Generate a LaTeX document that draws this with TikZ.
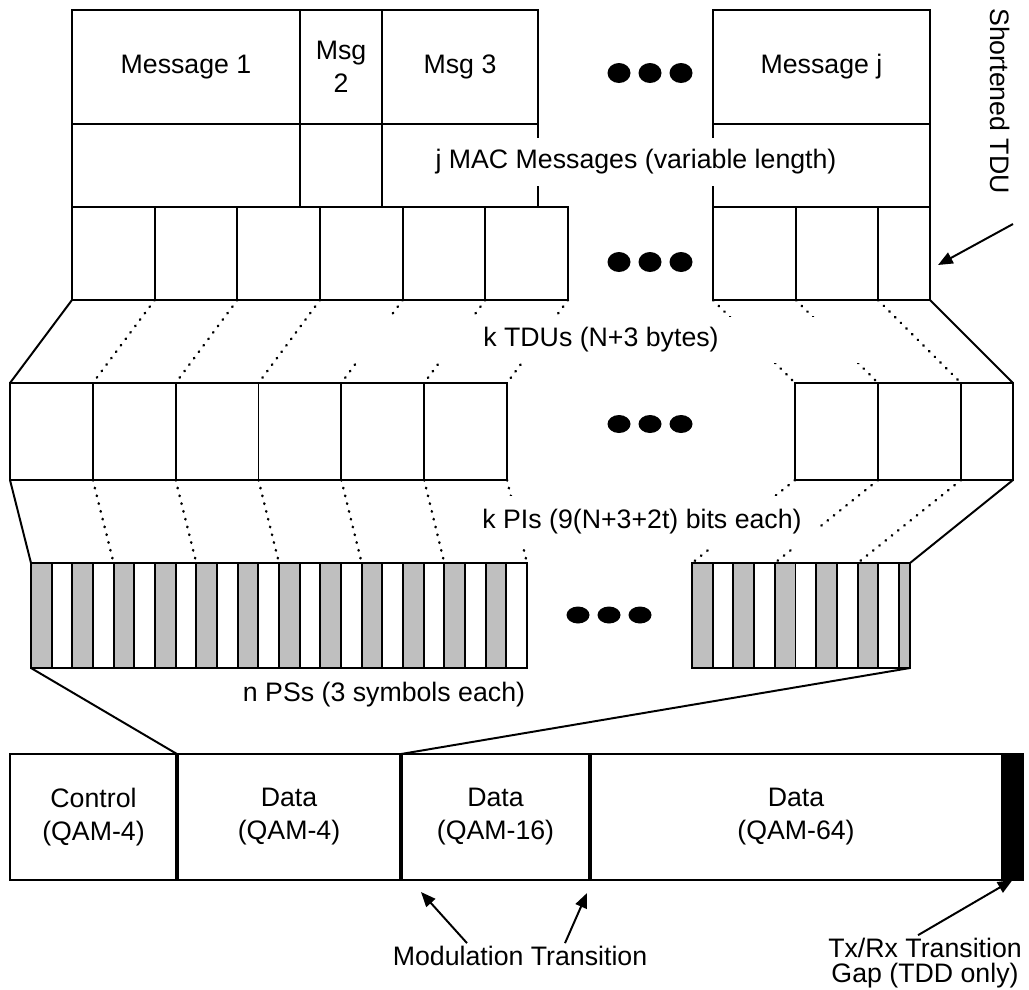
\documentclass[tikz,border=0pt]{standalone}
\usepackage{fontspec}
\setmainfont{Liberation Sans}
\usepackage{tikz}
\usetikzlibrary{arrows.meta}
\newcommand{\diagfont}{\fontsize{19}{23.5}\selectfont}

\begin{document}
\begin{tikzpicture}[
    x=0.025cm, y=-0.025cm,
    cell/.style = {
        rectangle,
        draw=black,
        line width=1.4pt,
        inner sep=0pt,
        outer sep=0pt,
        anchor=north west,
        align=center,
        font=\diagfont
    },
    wide/.style    = {minimum width=#1*\pxl},
    msgbox/.style  = {cell, minimum height=114*\pxl},
    lenbox/.style  = {cell, minimum height=83*\pxl},
    tdubox/.style  = {cell, minimum height=93*\pxl, wide=82.67},
    pibox/.style   = {cell, minimum height=97*\pxl, wide=82.83},
    psoff/.style   = {cell, minimum height=105*\pxl, wide=20.67},
    pson/.style    = {psoff, fill=black!25},
    slotbox/.style = {cell, minimum height=126*\pxl},
    divider/.style = {line width=2.8pt},
    link/.style    = {line width=1.4pt},
    dotlink/.style = {line width=1.8pt, line cap=round, dash pattern=on 0.4pt off 5.3pt},
    pointer/.style = {-{Triangle[length=10.5pt, width=8.5pt]}, line width=1.4pt},
    lbl/.style     = {font=\diagfont, inner sep=2pt},
    cover/.style   = {lbl, fill=white, inner sep=0pt}
]

\def\pxl{0.025cm}
\useasboundingbox (0,0) rectangle (1029,989);

\node[msgbox, wide=228] (msg1) at (72,10)  {Message 1};
\node[msgbox, wide=82]  (msg2) at (300,10) {Msg\\2};
\node[msgbox, wide=156] (msg3) at (382,10) {Msg 3};
\node[msgbox, wide=217] (msgj) at (713,10) {Message j};

\node[lenbox, wide=228] (len1) at (72,124)  {};
\node[lenbox, wide=82]  (len2) at (300,124) {};
\node[lenbox, wide=156] (len3) at (382,124) {};
\node[lenbox, wide=217] (lenj) at (713,124) {};

\foreach \i in {1,...,6}
    \node[tdubox] (tdu\i) at ({72+(\i-1)*82.67},207) {};
\node[tdubox, wide=83] (tduA) at (713,207) {};
\node[tdubox, wide=82] (tduB) at (796,207) {};
\node[tdubox, wide=52] (tduC) at (878,207) {};

\foreach \i in {1,...,6}
    \node[pibox] (pi\i) at ({10+(\i-1)*82.83},383) {};
\node[pibox, wide=83] (piA) at (795,383) {};
\node[pibox, wide=83] (piB) at (878,383) {};
\node[pibox, wide=52] (piC) at (961,383) {};

\foreach \i in {0,2,...,22}
    \node[pson] (ps\i) at ({31+\i*20.667},563) {};
\foreach \i in {1,3,...,23}
    \node[psoff] (ps\i) at ({31+\i*20.667},563) {};
\foreach \i in {0,2,...,8}
    \node[pson] (psr\i) at ({692+\i*20.7},563) {};
\foreach \i in {1,3,...,9}
    \node[psoff] (psr\i) at ({692+\i*20.7},563) {};
\node[pson, wide=11] (psrend) at (899,563) {};

\node[slotbox, wide=167] (ctrl)   at (10,754)  {Control\\(QAM-4)};
\node[slotbox, wide=224] (data4)  at (177,754) {Data\\(QAM-4)};
\node[slotbox, wide=189] (data16) at (401,754) {Data\\(QAM-16)};
\node[slotbox, wide=412] (data64) at (590,754) {Data\\(QAM-64)};
\node[slotbox, wide=21, fill=black] (txgap) at (1002,754) {};
\foreach \n in {data4,data16,data64}
    \draw[divider] (\n.north west) -- (\n.south west);

\foreach \i in {1,...,6}
    \draw[dotlink] (tdu\i.south east) -- (pi\i.north east);
\foreach \a in {A,B,C}
    \draw[dotlink] (tdu\a.south west) -- (pi\a.north west);
\foreach \i/\j in {1/3,2/7,3/11,4/15,5/19,6/23}
    \draw[dotlink] (pi\i.south east) -- (ps\j.north east);
\foreach \a/\j in {A/0,B/4,C/8}
    \draw[dotlink] (pi\a.south west) -- (psr\j.north west);

\node[cover, minimum width=420*\pxl, minimum height=48*\pxl] (maclbl) at (636,162) {j MAC Messages (variable length)};
\node[cover, minimum width=540*\pxl, minimum height=46*\pxl] (tdulbl) at (601,340) {k TDUs (N+3 bytes)};
\node[cover, minimum width=350*\pxl, minimum height=53*\pxl] (pilbl)  at (642,522) {k PIs (9(N+3+2t) bits each)};
\node[lbl] (pslbl) at (384,695) {n PSs (3 symbols each)};
\node[lbl, rotate=-90] (shortlbl) at (1000,101) {Shortened TDU};
\node[lbl] (modlbl) at (520,956) {Modulation Transition};
\node[lbl, align=center] (txlbl) at (925,963) {Tx/Rx Transition\\[-6pt]Gap (TDD only)};

\draw[link] (tdu1.south west) -- (pi1.north west);
\draw[link] (tduC.south east) -- (piC.north east);
\draw[link] (pi1.south west) -- (ps0.north west);
\draw[link] (piC.south east) -- (psrend.north east);
\draw[link] (ps0.south west) -- (data4.north west);
\draw[link] (psrend.south east) -- (data16.north west);

\foreach \y/\r in {73/10,262/10,424/9}
    \foreach \x in {619,650,681}
        \fill (\x,\y) ellipse [x radius=11.5, y radius=\r];
\foreach \x in {578,609,640}
    \fill (\x,615) ellipse [x radius=11.5, y radius=8.5];

\coordinate (shorttail) at (1013,224);
\draw[pointer] (shorttail) -- ([xshift=8*\pxl, yshift=-11.5*\pxl]tduC.east);
\draw[pointer] ([xshift=-53*\pxl]modlbl.north) -- ([xshift=20*\pxl, yshift=-12*\pxl]data16.south west);
\draw[pointer] ([xshift=45*\pxl]modlbl.north) -- ([xshift=-3*\pxl, yshift=-13*\pxl]data64.south west);
\draw[pointer] ([xshift=-7*\pxl]txlbl.north) -- (txgap.south);

\end{tikzpicture}
\end{document}
